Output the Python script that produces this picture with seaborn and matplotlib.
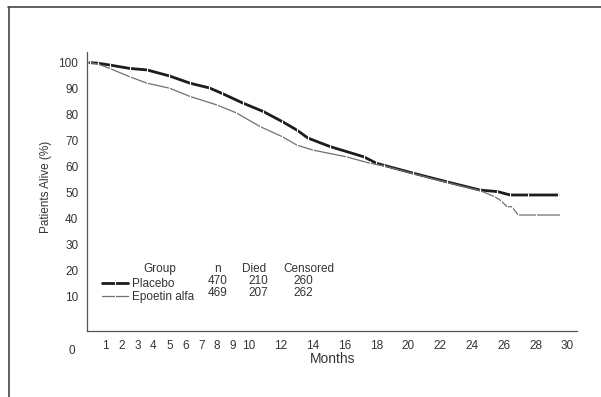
# Kaplan-Meier style survival plot, Placebo vs Epoetin alfa
import pandas as pd
import numpy as np
import seaborn as sns
import matplotlib.pyplot as plt
from matplotlib.lines import Line2D

# Values
months_placebo = [0, 0.5, 1.25, 2.5, 3.6, 5.0, 6.3, 7.5, 8.3, 9.6, 10.9, 12.1, 13.0, 13.7,
                  15.1, 17.2, 18.0, 20.3, 22.4, 24.5, 25.6, 26.4, 27.5, 29.4]
alive_placebo = [100, 99.8, 99.1, 97.8, 97.2, 94.9, 92.1, 90.3, 88.2, 84.5, 81.2, 77.3, 74.1, 71.0,
                 67.7, 63.8, 61.3, 57.5, 54.2, 51.0, 50.4, 49.1, 49.1, 49.1]

months_epoetin = [0, 0.5, 1.25, 2.5, 3.6, 5.0, 6.3, 8.0, 9.2, 10.7, 12.1, 13.0, 14.0, 16.1,
                  17.6, 18.5, 20.3, 22.4, 24.5, 25.4, 25.8, 26.2, 26.5, 26.9, 28.0, 29.5]
alive_epoetin = [100, 99.5, 97.8, 94.6, 92.1, 90.2, 87.0, 83.7, 80.7, 75.4, 71.5, 68.3, 66.4, 63.8,
                 61.3, 60.3, 57.3, 54.0, 50.8, 48.5, 47.0, 44.6, 44.6, 41.4, 41.4, 41.4]

groups = ['Placebo', 'Epoetin alfa']
n_patients = [470, 469]
n_died = [210, 207]
n_censored = [260, 262]

x_ticks = list(range(1, 11)) + list(range(12, 31, 2))
x_minor = list(range(11, 30, 2))
y_ticks = list(range(10, 101, 10))

placebo = pd.DataFrame({'Months': months_placebo, 'Alive': alive_placebo})
epoetin = pd.DataFrame({'Months': months_epoetin, 'Alive': alive_epoetin})

sns.set_style('white')
plt.rcParams['font.family'] = ['Liberation Sans', 'DejaVu Sans']

fig = plt.figure(figsize=(6.01, 3.97), dpi=100)
ax = fig.add_axes([0.1453, 0.167, 0.815, 0.702])

sns.lineplot(data=placebo, x='Months', y='Alive', ax=ax, color='#1c1c1c', linewidth=2.0,
             marker='|', markersize=3, markeredgewidth=0.8, label=groups[0])
sns.lineplot(data=epoetin, x='Months', y='Alive', ax=ax, color='#707070', linewidth=0.9,
             marker='|', markersize=3.5, markeredgewidth=0.8, label=groups[1])

ax.set_xlim(-0.15, 30.6)
ax.set_ylim(-3.1, 104.1)
ax.set_xticks(x_ticks)
ax.set_xticks(x_minor, minor=True)
ax.set_yticks(y_ticks)
ax.tick_params(axis='both', which='both', direction='out', length=3.5, width=0.8,
               colors='#444444', labelsize=8.5, labelcolor='#333333', pad=3)
ax.tick_params(axis='x', which='minor', length=3)
for side in ['top', 'right']:
    ax.spines[side].set_visible(False)
for side in ['left', 'bottom']:
    ax.spines[side].set_color('#555555')
    ax.spines[side].set_linewidth(0.9)

ax.set_xlabel('Months', fontsize=10, color='#333333')
ax.set_ylabel('Patients Alive (%)', fontsize=8.5, color='#333333')
ax.xaxis.set_label_coords(0.5, -0.075)
ax.yaxis.set_label_coords(-0.072, 0.516)
ax.text(-0.025, -0.05, '0', transform=ax.transAxes, ha='right', va='top',
        fontsize=8.5, color='#333333')

# legend table
leg = ax.legend(loc='upper left', bbox_to_anchor=(0.03, 0.19), frameon=False,
                fontsize=8.5, handlelength=2.2, handletextpad=0.3, labelspacing=0.1,
                borderaxespad=0, borderpad=0)
for t in leg.get_texts():
    t.set_color('#333333')
ax.text(4.43, 20.7, 'Group', ha='center', va='center', fontsize=8.5, color='#333333')
ax.text(8.02, 20.7, 'n', ha='center', va='center', fontsize=8.5, color='#333333')
ax.text(10.3, 20.7, 'Died', ha='center', va='center', fontsize=8.5, color='#333333')
ax.text(13.74, 20.7, 'Censored', ha='center', va='center', fontsize=8.5, color='#333333')
row_y = [16.2, 11.5]
for i in range(2):
    ax.text(8.02, row_y[i], str(n_patients[i]), ha='center', va='center', fontsize=8.5, color='#333333')
    ax.text(10.6, row_y[i], str(n_died[i]), ha='center', va='center', fontsize=8.5, color='#333333')
    ax.text(13.43, row_y[i], str(n_censored[i]), ha='center', va='center', fontsize=8.5, color='#333333')

# scanned page frame
fig.add_artist(Line2D([8 / 601, 1], [1 - 6.5 / 397, 1 - 6.5 / 397], color='#444444', linewidth=1.2))
fig.add_artist(Line2D([9 / 601, 9 / 601], [0, 1 - 6.5 / 397], color='#444444', linewidth=1.2))

fig.savefig('out.png', dpi=100)
